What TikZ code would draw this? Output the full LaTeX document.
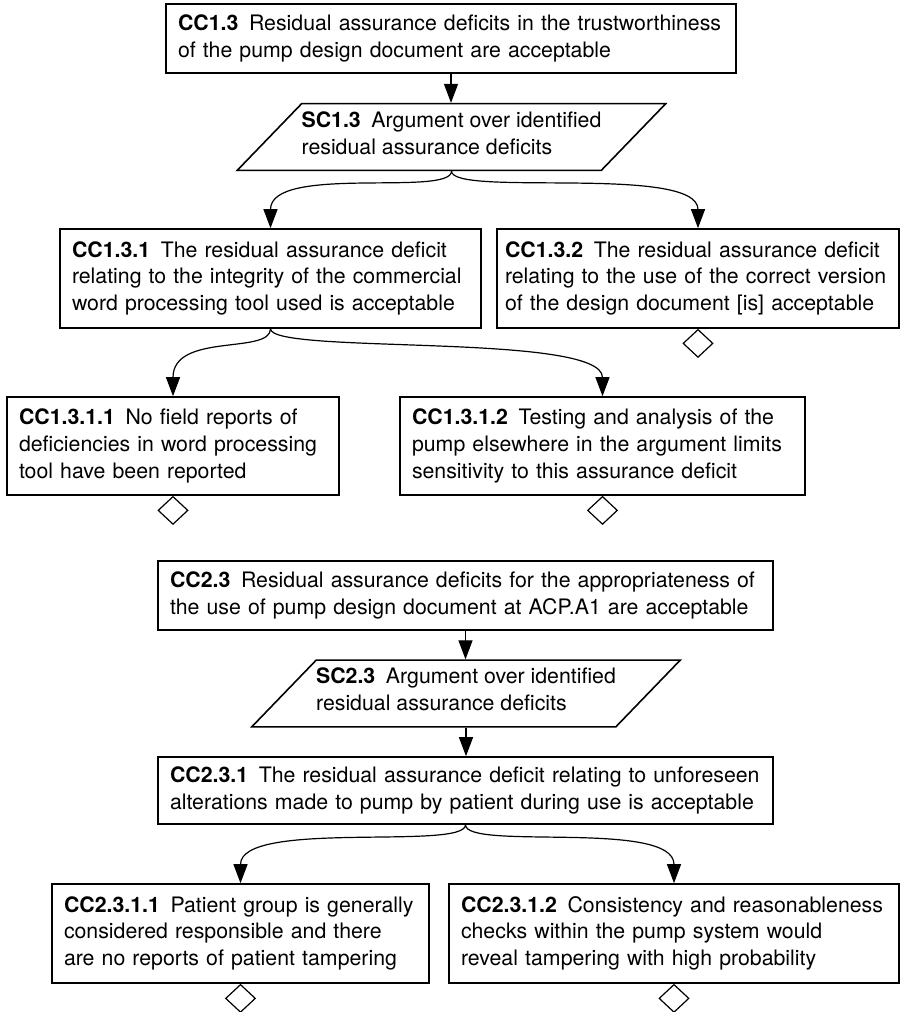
\documentclass[tikz,border=0pt]{standalone}
\usepackage{fontspec}
\setmainfont{TeX Gyre Heros}
\usetikzlibrary{shapes.geometric, positioning, arrows.meta}
\tikzset{
->, % every connector is directed
>={Triangle[length=9.5pt, width=7pt]}, % solid heads
claim/.style={draw, line width=0.8pt, rectangle, align=left, inner xsep=6pt, inner ysep=1pt, font=\fontsize{10.65}{13.4}\selectfont, execute at begin node=\strut, execute at end node=\strut}, % claim boxes
strategy/.style={draw, line width=0.8pt, trapezium, trapezium left angle=46, trapezium right angle=134, align=left, inner xsep=0pt, inner ysep=4pt, font=\fontsize{10.65}{13.4}\selectfont, execute at begin node=\strut, execute at end node=\strut}, % strategy parallelograms
undev/.style={draw, line width=0.6pt, diamond, inner sep=0pt, minimum width=15pt, minimum height=14pt}, % undeveloped marker
forked/.style={out=-90, in=90, out distance=13pt, in distance=32pt}, % split connectors
}

\begin{document}
\begin{tikzpicture}[x=0.5pt, y=0.5pt, line width=0.6pt]
                \useasboundingbox (0,0) rectangle (900,1012);

                \node[claim, text width=273pt, minimum height=34.5pt] (cc13) at (451,973.5) {\textbf{CC1.3}\enspace Residual assurance deficits in the trustworthiness\\of the pump design document are acceptable};
                \node[strategy] (sc13) at (451.5,875) {\textbf{SC1.3}\enspace Argument over identified\\residual assurance deficits};
                \node[claim, text width=198.5pt, minimum height=49.5pt] (cc131) at (270.5,733.5) {\textbf{CC1.3.1}\enspace The residual assurance deficit\\relating to the integrity of the commercial\\word processing tool used is acceptable};
                \node[claim, inner xsep=4pt, text width=193pt, minimum height=49.5pt] (cc132) at (698,733.5) {\textbf{CC1.3.2}\enspace The residual assurance deficit\\relating to the use of the correct version\\of the design document [is] acceptable};
                \node[claim, text width=154pt, minimum height=49pt] (cc1311) at (173,566) {\textbf{CC1.3.1.1}\enspace No field reports of\\deficiencies in word processing\\tool have been reported};
                \node[claim, text width=190.5pt, minimum height=49pt] (cc1312) at (602.5,566) {\textbf{CC1.3.1.2}\enspace Testing and analysis of the\\pump elsewhere in the argument limits\\sensitivity to this assurance deficit};

                \node[undev, below=0pt of cc132] (u132) {};
                \node[undev, below=0pt of cc1311] (u1311) {};
                \node[undev, below=0pt of cc1312] (u1312) {};

                \node[claim, text width=295.5pt, minimum height=34.5pt] (cc23) at (465.5,416.5) {\textbf{CC2.3}\enspace Residual assurance deficits for the appropriateness of\\the use of pump design document at ACP.A1 are acceptable};
                \node[strategy] (sc23) at (466,318.5) {\textbf{SC2.3}\enspace Argument over identified\\residual assurance deficits};
                \node[claim, text width=295.5pt, minimum height=33.5pt] (cc231) at (465.5,221.5) {\textbf{CC2.3.1}\enspace The residual assurance deficit relating to unforeseen\\alterations made to pump by patient during use is acceptable};
                \node[claim, text width=176.5pt, minimum height=49.5pt] (cc2311) at (240.5,78.5) {\textbf{CC2.3.1.1}\enspace Patient group is generally\\considered responsible and there\\are no reports of patient tampering};
                \node[claim, text width=213pt, minimum height=49.5pt] (cc2312) at (674,78.5) {\textbf{CC2.3.1.2}\enspace Consistency and reasonableness\\checks within the pump system would\\reveal tampering with high probability};

                \node[undev, below=0pt of cc2311] (u2311) {};
                \node[undev, below=0pt of cc2312] (u2312) {};

                \draw (cc13.south) -- (cc13.south |- sc13.north);
                \draw (sc13.center |- sc13.south) to[forked] (cc131.north);
                \draw (sc13.center |- sc13.south) to[forked] (cc132.north);
                \draw (cc131.south) to[forked] (cc1311.north);
                \draw (cc131.south) to[forked] (cc1312.north);

                \draw (cc23.south) -- (cc23.south |- sc23.north);
                \draw (sc23.center |- sc23.south) -- (sc23.center |- cc231.north);
                \draw (cc231.south) to[forked] (cc2311.north);
                \draw (cc231.south) to[forked] (cc2312.north);
            \end{tikzpicture}
\end{document}
